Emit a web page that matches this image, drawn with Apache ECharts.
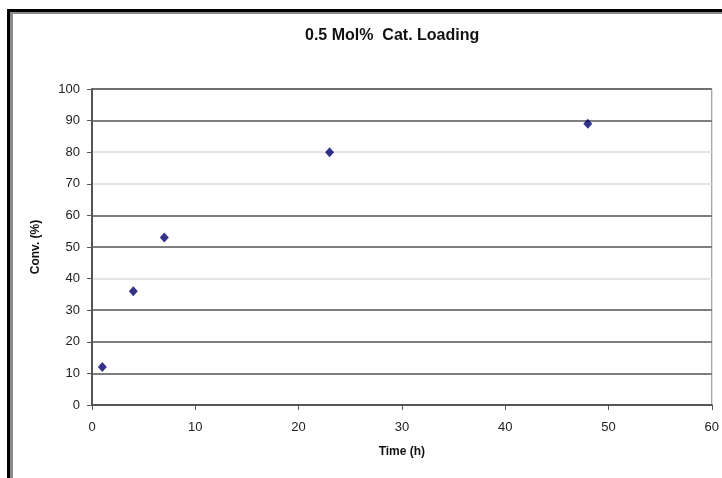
<!DOCTYPE html>
<html>
<head>
<meta charset="utf-8">
<script src="https://cdn.jsdelivr.net/npm/echarts@6/dist/echarts.min.js"></script>
<style>
  body { margin: 0; background: #fff; }
  #chart { width: 722px; height: 478px; }
  .frame {
    position: absolute;
    left: 7px;
    top: 9px;
    width: 730px;
    height: 480px;
    border-left: 3px solid #000;
    border-top: 3px solid #000;
    box-shadow: inset 3px 2px 0 #8a8a8a;
    pointer-events: none;
  }
</style>
</head>
<body>
<div id="chart"></div>
<div class="frame"></div>
<script>
// time (h) and conversion (%)
const timeH = [1, 4, 7, 23, 48];
const conv = [12, 36, 53, 80, 89];
const titleText = "0.5 Mol%  Cat. Loading";

const points = timeH.map((t, i) => [t, conv[i]]);

// gridlines in the scan come out dark or faint
const yGridColors = ["#555", "#555", "#555", "#555", "#ddd", "#555", "#555", "#ddd", "#ddd", "#555", "#555"];

const chart = echarts.init(document.getElementById("chart"));
chart.setOption({
  animation: false,
  title: {
    text: titleText,
    left: 300,
    top: 23,
    textStyle: {
      fontFamily: "Liberation Sans, Arial",
      fontSize: 16,
      fontWeight: "bold",
      color: "#111"
    }
  },
  grid: {
    left: 92,
    right: 9,
    top: 89,
    bottom: 73,
    show: true,
    borderColor: "#888",
    borderWidth: 1
  },
  xAxis: {
    type: "value",
    min: 0,
    max: 60,
    interval: 10,
    name: "Time (h)",
    nameLocation: "middle",
    nameGap: 41,
    nameTextStyle: { fontFamily: "Liberation Sans, Arial", fontSize: 12, fontWeight: "bold", color: "#111" },
    axisLine: { onZero: false, lineStyle: { color: "#555", width: 2 } },
    axisTick: { show: true, inside: false, length: 5, lineStyle: { color: "#555" } },
    axisLabel: { margin: 16, fontFamily: "Liberation Sans, Arial", fontSize: 13, color: "#222" },
    splitLine: { show: false }
  },
  yAxis: {
    type: "value",
    min: 0,
    max: 100,
    interval: 10,
    name: "Conv. (%)",
    nameLocation: "middle",
    nameGap: 50,
    nameTextStyle: { fontFamily: "Liberation Sans, Arial", fontSize: 12, fontWeight: "bold", color: "#111" },
    axisLine: { show: true, onZero: false, lineStyle: { color: "#555", width: 2 } },
    axisTick: { show: true, inside: false, length: 5, lineStyle: { color: "#555" } },
    axisLabel: { margin: 12, fontFamily: "Liberation Sans, Arial", fontSize: 13, color: "#222" },
    splitLine: { show: true, lineStyle: { color: yGridColors, width: 1.5 } }
  },
  series: [
    {
      type: "scatter",
      data: points,
      symbol: "diamond",
      symbolSize: [9, 10],
      itemStyle: { color: "#00006e" }
    }
  ]
});
</script>
</body>
</html>
